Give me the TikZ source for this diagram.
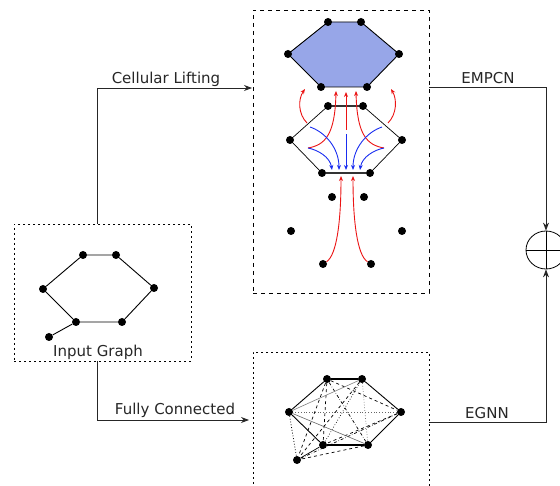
\documentclass[tikz,border=0pt]{standalone}
\usepackage{fontspec}
\setmainfont{DejaVu Sans}
\usetikzlibrary{shapes.geometric, arrows.meta, backgrounds}

\definecolor{cellblue}{RGB}{151,166,232}
\definecolor{liftred}{RGB}{235,20,20}
\definecolor{passblue}{RGB}{25,45,240}

\tikzset{
  vtx/.style={circle, fill=black, inner sep=0pt, minimum size=8pt},
  dotbox/.style={draw, dash pattern=on 2pt off 3pt, inner sep=0pt, outer sep=0pt},
  dashbox/.style={draw, dash pattern=on 4pt off 4pt, inner sep=0pt, outer sep=0pt},
  lbl/.style={anchor=base, font=\fontsize{15}{18}\selectfont, text=black!85},
  flow/.style={-{Stealth[length=8pt,width=6pt]}, line width=0.9pt, black!85},
  liftarr/.style={-{Stealth[length=5pt,width=4pt]}, liftred, line width=0.9pt},
  passarr/.style={-{Stealth[length=5pt,width=4pt]}, passblue, line width=0.9pt},
  edge/.style={line width=0.9pt},
}

\begin{document}
\begin{tikzpicture}[x=1pt, y=-1pt]
			\clip (0,0) rectangle (560,486);

			\node[dotbox, minimum width=177pt, minimum height=137pt] (inbox) at (102.5,292.5) {};
			\node[dashbox, minimum width=176pt, minimum height=283pt] (topbox) at (341,151.5) {};
			\node[dotbox, minimum width=176pt, minimum height=148pt] (botbox) at (341,426) {};

			\node[lbl] (inlbl) at (98,357) {Input Graph};
			\node[lbl] (liftlbl) at (166,84) {Cellular Lifting};
			\node[lbl] (fulllbl) at (175,415) {Fully Connected};
			\node[lbl] (mplbl) at (488,84) {EMPCN};
			\node[lbl] (eglbl) at (487,419) {EGNN};

			\node (i1) [vtx] at (83,255) {};
			\node (i2) [vtx] at (116,255) {};
			\node (i3) [vtx] at (154,288) {};
			\node (i4) [vtx] at (122,322) {};
			\node (i5) [vtx] at (76,322) {};
			\node (i6) [vtx] at (43,289) {};
			\node (i7) [vtx] at (49,337) {};
			\draw [edge] (i1) -- (i2) -- (i3) -- (i4) -- (i5) -- (i6) -- (i1);
			\draw [edge] (i5) -- (i7);

			\node (c1) [vtx] at (328,22) {};
			\node (c2) [vtx] at (361,22) {};
			\node (c3) [vtx] at (399,54) {};
			\node (c4) [vtx] at (367,87) {};
			\node (c5) [vtx] at (321,87) {};
			\node (c6) [vtx] at (288,54) {};
			\begin{scope}[on background layer]
			\filldraw [edge, fill=cellblue] (c1.center) -- (c2.center) -- (c3.center) -- (c4.center) -- (c5.center) -- (c6.center) -- cycle;
			\end{scope}

			\node (m1) [vtx] at (328,106) {};
			\node (m2) [vtx] at (363,106) {};
			\node (m3) [vtx] at (402,140) {};
			\node (m4) [vtx] at (370,173) {};
			\node (m5) [vtx] at (322,173) {};
			\node (m6) [vtx] at (290,140) {};
			\draw [line width=0.7pt] (m2) -- (m3) -- (m4);
			\draw [line width=0.7pt] (m5) -- (m6) -- (m1);
			\draw [line width=1.5pt, black!80] (m1) -- (m2);
			\draw [line width=1.5pt, black!80] (m4) -- (m5);

			\node (d1) [vtx] at (332,197) {};
			\node (d2) [vtx] at (364,197) {};
			\node (d3) [vtx] at (291,231) {};
			\node (d4) [vtx] at (402,231) {};
			\node (d5) [vtx] at (323,264) {};
			\node (d6) [vtx] at (371,264) {};

			\coordinate (rl) at (307,123);
			\coordinate (rr) at (388,123);
			\coordinate (rli) at (308,148);
			\coordinate (rri) at (384,148);
			\coordinate (rc) at (346,130);
			\coordinate (tl) at (305,89);
			\coordinate (tr) at (391,89);
			\coordinate (tli) at (336,91);
			\coordinate (tri) at (356,91);
			\coordinate (tc) at (346,92);
			\coordinate (bl) at (341,176);
			\coordinate (br) at (353,176);
			\draw [liftarr] (rl) .. controls (298,114) and (298,99) .. (tl);
			\draw [liftarr] (rr) .. controls (397,114) and (397,99) .. (tr);
			\draw [liftarr] (rli) .. controls (325,145) and (335,135) .. (tli);
			\draw [liftarr] (rri) .. controls (367,145) and (357,135) .. (tri);
			\draw [liftarr] (rc) -- (tc);
			\draw [liftarr] (d5) .. controls (337,255) and (341,220) .. (bl);
			\draw [liftarr] (d6) .. controls (357,255) and (353,220) .. (br);

			\coordinate (pl) at (310,127);
			\coordinate (pr) at (382,127);
			\coordinate (pc) at (346,134);
			\coordinate (e1) at (332,170);
			\coordinate (e2) at (339,170);
			\coordinate (e3) at (346,170);
			\coordinate (e4) at (353,170);
			\coordinate (e5) at (360,170);
			\draw [passarr] (pl) .. controls (325,132) and (339,148) .. (e2);
			\draw [passarr] (rli) .. controls (318,150) and (330,157) .. (e1);
			\draw [passarr] (pc) -- (e3);
			\draw [passarr] (pr) .. controls (367,132) and (353,148) .. (e4);
			\draw [passarr] (rri) .. controls (374,150) and (362,157) .. (e5);

			\node (f1) [vtx] at (327,379) {};
			\node (f2) [vtx] at (362,379) {};
			\node (f3) [vtx] at (401,412) {};
			\node (f4) [vtx] at (368,445) {};
			\node (f5) [vtx] at (323,445) {};
			\node (f6) [vtx] at (289,412) {};
			\node (f7) [vtx] at (297,460) {};
			\draw [edge] (f2) -- (f3) -- (f4);
			\draw [edge] (f5) -- (f6) -- (f1);
			\draw [line width=1.4pt] (f1) -- (f2);
			\draw [line width=1.4pt] (f4) -- (f5);
			\draw [line width=0.7pt] (f5) -- (f7);
			\draw [dashed, line width=0.7pt] (f1) -- (f3);
			\draw [dash dot, line width=0.7pt] (f1) -- (f4);
			\draw [dashed, line width=0.7pt] (f1) -- (f5);
			\draw [dashed, line width=0.7pt] (f1) -- (f7);
			\draw [dotted, line width=0.7pt, black!60] (f2) -- (f4);
			\draw [dotted, line width=0.7pt] (f2) -- (f5);
			\draw [line width=0.6pt, black!50] (f2) -- (f6);
			\draw [dashed, line width=0.7pt] (f2) -- (f7);
			\draw [dotted, line width=0.8pt, black!60] (f3) -- (f6);
			\draw [dashed, line width=0.7pt] (f3) -- (f5);
			\draw [dash dot, line width=0.7pt] (f3) -- (f7);
			\draw [line width=0.6pt, black!60] (f4) -- (f6);
			\draw [dashed, line width=0.7pt] (f4) -- (f7);
			\draw [dotted, line width=0.8pt] (f6) -- (f7);

			\node (sum) [draw, ellipse, minimum width=40pt, minimum height=38pt, inner sep=0pt, line width=0.8pt] at (546,250) {};
			\draw [line width=0.8pt] (sum.west) -- (sum.east);
			\draw [line width=0.8pt] (sum.north) -- (sum.south);

			\coordinate (inup) at (97,224);
			\coordinate (indown) at (97,361);
			\coordinate (liftin) at (252,88);
			\coordinate (fullin) at (249,420);
			\coordinate (mpout) at (429,87);
			\coordinate (egout) at (429,422);
			\draw [flow] (inup) |- (liftin);
			\draw [flow] (indown) |- (fullin);
			\draw [flow] (mpout) -| (sum.north);
			\draw [flow] (egout) -| (sum.south);
			\end{tikzpicture}
\end{document}
